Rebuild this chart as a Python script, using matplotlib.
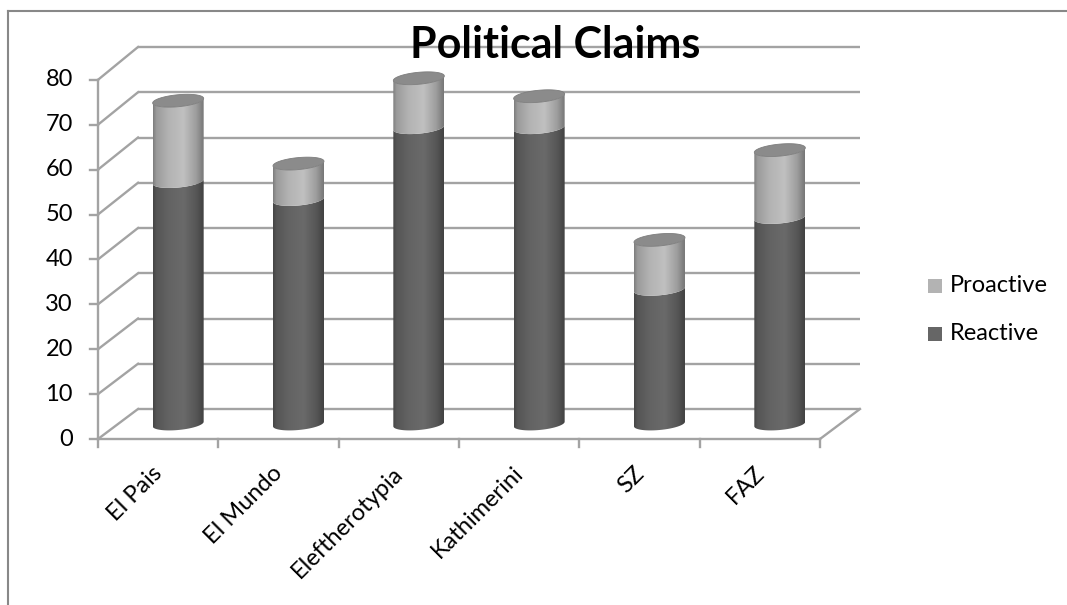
import numpy as np
import matplotlib
matplotlib.use("Agg")
import matplotlib.pyplot as plt
from matplotlib.patches import Polygon, Rectangle
from matplotlib.lines import Line2D

# ---------------- data ----------------
categories = ["El Pais", "El Mundo", "Eleftherotypia", "Kathimerini", "SZ", "FAZ"]
reactive = [54, 50, 66, 66, 30, 46]
proactive = [18, 8, 11, 7, 11, 15]
yticks = [0, 10, 20, 30, 40, 50, 60, 70, 80]
series_names = ["Proactive", "Reactive"]
title = "Political Claims"

# ---------------- style ----------------
W, H = 1067, 605
X0, CW = 98.0, 120.33      # pixel of front axis, pixel width per category
Y0, VS = 439.0, 4.49       # pixel of front zero, pixels per value unit
DXB = 40.0 / CW            # depth offset of back wall (x, categories)
DYB0 = 30.0 / VS           # depth offset of back wall at 0 (value units)
BSCALE = 4.525 / 4.49      # back wall value scale
DXM, DYM = DXB / 2, DYB0 / 2
A = 25.5 / CW              # cylinder half width
B = 6.0 / VS               # ellipse half height
TILT = 2.4                 # value units per category unit
GRID = "#a3a3a3"
REACT_PEAK = np.array([0x6a, 0x6a, 0x6a]) / 255
PRO_PEAK = np.array([0xc0, 0xc0, 0xc0]) / 255
CAP = "#8b8b8b"
FONT = "Lato"

fig = plt.figure(figsize=(W / 100, H / 100), dpi=100)
ax = fig.add_axes([0, 0, 1, 1])
xlim = (-X0 / CW, (W - X0) / CW)
ylim = ((Y0 - H) / VS, Y0 / VS)
ax.axis("off")

def px(v):
    return v / CW

def pyv(v):
    return v / VS

def backy(v):
    return DYB0 + v * BSCALE

n = len(categories)
# back wall gridlines and left wall diagonals
for v in yticks:
    ax.plot([DXB, DXB + n], [backy(v), backy(v)], color=GRID, lw=1.7, zorder=1,
            solid_capstyle="butt")
    ax.plot([0, DXB], [v, backy(v)], color=GRID, lw=1.7, zorder=1)
    ax.plot([-px(8), 0], [v, v], color=GRID, lw=1.7, zorder=1)
    ax.text(-px(25), v, str(v), ha="right", va="center", fontsize=17,
            family=FONT, color="black")
# floor & axes
ax.plot([0, 0], [0, yticks[-1]], color=GRID, lw=1.7, zorder=1)
ax.plot([0, n], [0, 0], color=GRID, lw=1.7, zorder=1)
ax.plot([n, n + DXB], [0, backy(0)], color=GRID, lw=1.7, zorder=1)
for i in range(n + 1):
    ax.plot([i, i], [0, -pyv(8)], color=GRID, lw=1.7, zorder=1)

# gradient profile
u_k = [0.0, 0.06, 0.3, 0.6, 0.85, 1.0]
f_k = [0.66, 0.8, 0.93, 1.0, 0.82, 0.62]
NG = 80
prof = np.interp(np.linspace(0, 1, NG), u_k, f_k)

def arc(cx, yc, t0, t1, m=60):
    t = np.linspace(t0, t1, m)
    xs = cx + A * np.cos(t)
    ys = yc + B * np.sin(t) + TILT * (A * np.cos(t))
    return np.column_stack([xs, ys])

def segment(cx, v0, v1, peak):
    y0 = DYM + v0
    y1 = DYM + v1
    bottom = arc(cx, y0, np.pi, 2 * np.pi)
    top = arc(cx, y1, 2 * np.pi, np.pi)
    poly = Polygon(np.vstack([bottom, top]), closed=True, facecolor="none",
                   edgecolor="none", zorder=3)
    ax.add_patch(poly)
    img = prof[None, :, None] * peak[None, None, :]
    im = ax.imshow(np.clip(img, 0, 1), extent=[cx - A, cx + A, y0 - B - A * TILT,
                   y1 + B + A * TILT], aspect="auto", interpolation="bilinear",
                   origin="lower", zorder=3)
    im.set_clip_path(poly)

for i in range(n):
    cx = i + 0.5 + DXM
    r, p = reactive[i], proactive[i]
    segment(cx, 0, r, REACT_PEAK)
    segment(cx, r, r + p, PRO_PEAK)
    capv = DYM + r + p
    cap = Polygon(arc(cx, capv, 0, 2 * np.pi, 120), closed=True,
                  facecolor=CAP, edgecolor="#7d7d7d", lw=0.6, zorder=4)
    ax.add_patch(cap)
    ax.text(i + 0.5 + px(1), -pyv(31), categories[i], rotation=45,
            rotation_mode="anchor", ha="right", va="center", fontsize=17,
            family=FONT, color="black")

# title
ax.text(px(555 - X0), (Y0 - 45) / VS, title, ha="center", va="center",
        fontsize=31, fontweight="bold", family=FONT, color="black", zorder=5)

# legend
leg_y = [(Y0 - 286) / VS, (Y0 - 334) / VS]
leg_c = ["#b3b3b3", "#666666"]
for name, yy, c in zip(series_names, leg_y, leg_c):
    ax.add_patch(Rectangle((px(928 - X0), yy - pyv(7)), px(14), pyv(14),
                           facecolor=c, edgecolor="none", zorder=5))
    ax.text(px(950 - X0), yy, name, ha="left", va="center", fontsize=17,
            family=FONT, color="black")

ax.set_xlim(*xlim)
ax.set_ylim(*ylim)

# chart border
fig.add_artist(Line2D([8 / W, 8 / W], [0, 1 - 11 / H], color="#888888", lw=1.5))
fig.add_artist(Line2D([8 / W, 1], [1 - 11 / H, 1 - 11 / H], color="#888888", lw=1.5))

fig.savefig("out.png", dpi=100)
